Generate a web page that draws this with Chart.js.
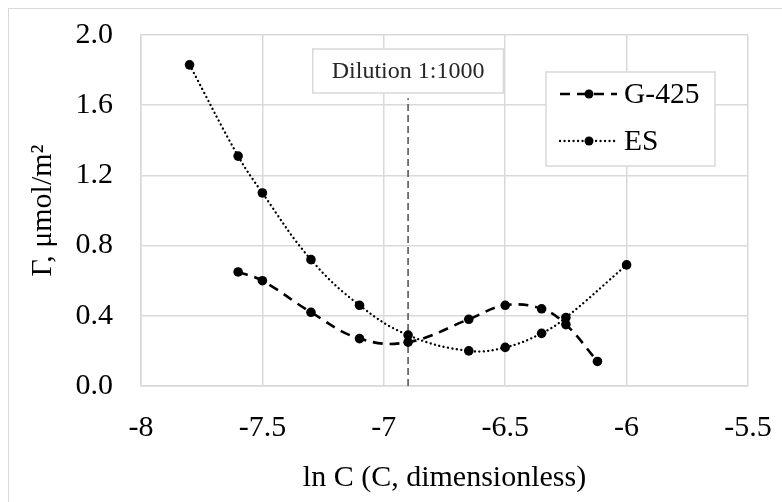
<!DOCTYPE html>
<html>
<head>
<meta charset="utf-8">
<script src="https://cdn.jsdelivr.net/npm/chart.js@4"></script>
<style>
  html, body { margin: 0; padding: 0; background: #fff; overflow: hidden; }
  #frame { position: absolute; left: 8px; top: 8px; width: 820px; height: 540px;
           border-left: 1.5px solid #d9d9d9; border-top: 1.5px solid #d9d9d9; }
  #wrap { position: absolute; left: 0; top: 0; width: 782px; height: 502px; }
</style>
</head>
<body>
<div id="frame"></div>
<div id="wrap"><canvas id="chart" width="782" height="502"></canvas></div>
<script>
// data
const g425X = [-7.6, -7.5, -7.3, -7.1, -6.9, -6.65, -6.5, -6.35, -6.25, -6.12];
const g425Y = [0.65, 0.60, 0.42, 0.27, 0.25, 0.38, 0.46, 0.44, 0.35, 0.14];
const esX = [-7.8, -7.6, -7.5, -7.3, -7.1, -6.9, -6.65, -6.5, -6.35, -6.25, -6.0];
const esY = [1.83, 1.31, 1.10, 0.72, 0.46, 0.29, 0.20, 0.22, 0.30, 0.39, 0.69];
const dilutionX = [-6.9, -6.9];
const dilutionY = [0, 1.64];
const dilutionLabel = 'Dilution 1:1000';
const xTicks = [-8, -7.5, -7, -6.5, -6, -5.5];
const yTicks = [0, 0.4, 0.8, 1.2, 1.6, 2.0];

const FONT = "'Liberation Serif', 'Times New Roman', serif";
const GRID = '#d9d9d9';

const pts = (xs, ys) => xs.map((x, i) => ({ x: x, y: ys[i] }));

// text box over the dilution line
const dilutionBox = {
  id: 'dilutionBox',
  afterDatasetsDraw(chart) {
    const ctx = chart.ctx, xs = chart.scales.x, ca = chart.chartArea;
    const cx = xs.getPixelForValue(dilutionX[0]);
    ctx.save();
    ctx.font = '24px ' + FONT;
    const w = ctx.measureText(dilutionLabel).width + 38;
    const h = 44, top = ca.top + 14;
    ctx.fillStyle = '#fff';
    ctx.fillRect(cx - w / 2, top, w, h);
    ctx.strokeStyle = GRID;
    ctx.lineWidth = 1.5;
    ctx.strokeRect(cx - w / 2, top, w, h);
    ctx.fillStyle = '#262626';
    ctx.textAlign = 'center';
    ctx.textBaseline = 'middle';
    ctx.fillText(dilutionLabel, cx, top + h / 2 + 1);
    ctx.restore();
  }
};

// Excel-like legend: line sample with marker in the middle
const boxLegend = {
  id: 'boxLegend',
  afterDraw(chart) {
    const ctx = chart.ctx, ca = chart.chartArea;
    const right = ca.right - 33, left = right - 169, top = ca.top + 37, h = 94;
    ctx.save();
    ctx.fillStyle = '#fff';
    ctx.fillRect(left, top, right - left, h);
    ctx.strokeStyle = GRID;
    ctx.lineWidth = 1.5;
    ctx.strokeRect(left, top, right - left, h);
    chart.data.datasets.forEach((ds, i) => {
      if (ds.hideInLegend) return;
      const y = top + 22 + i * 47;
      ctx.beginPath();
      ctx.setLineDash(ds.borderDash || []);
      ctx.lineCap = ds.borderCapStyle || 'butt';
      ctx.lineWidth = ds.borderWidth;
      ctx.strokeStyle = ds.borderColor;
      ctx.moveTo(left + 14, y);
      ctx.lineTo(left + 71, y);
      ctx.stroke();
      ctx.setLineDash([]);
      ctx.beginPath();
      ctx.fillStyle = '#000';
      ctx.arc(left + 43, y, 4.5, 0, Math.PI * 2);
      ctx.fill();
      ctx.font = '29.5px ' + FONT;
      ctx.fillStyle = '#000';
      ctx.textBaseline = 'middle';
      ctx.fillText(ds.label, left + 78, y + 1);
    });
    ctx.restore();
  }
};

new Chart(document.getElementById('chart'), {
  type: 'scatter',
  data: {
    datasets: [{
      label: 'G-425',
      data: pts(g425X, g425Y),
      showLine: true,
      tension: 0.4,
      borderColor: '#000',
      backgroundColor: '#000',
      borderWidth: 2.6,
      borderDash: [10, 7],
      pointRadius: 4.8,
      pointHoverRadius: 4.8,
      pointBorderWidth: 0
    }, {
      label: 'ES',
      data: pts(esX, esY),
      showLine: true,
      tension: 0.4,
      borderColor: '#000',
      backgroundColor: '#000',
      borderWidth: 2.3,
      borderDash: [0.1, 4.4],
      borderCapStyle: 'round',
      pointRadius: 4.8,
      pointHoverRadius: 4.8,
      pointBorderWidth: 0
    }, {
      label: 'dilution',
      hideInLegend: true,
      data: pts(dilutionX, dilutionY),
      showLine: true,
      borderColor: '#595959',
      borderWidth: 1.6,
      borderDash: [7, 4],
      pointRadius: 0
    }]
  },
  options: {
    responsive: false,
    animation: false,
    devicePixelRatio: 1,
    layout: { padding: { left: 8, top: 35, right: 34, bottom: 0 } },
    plugins: { legend: { display: false }, tooltip: { enabled: false } },
    scales: {
      x: {
        type: 'linear',
        min: -8, max: -5.5,
        afterBuildTicks: s => { s.ticks = xTicks.map(v => ({ value: v })); },
        afterFit: s => { s.height = 116; s.paddingLeft = 0; s.paddingRight = 0; },
        grid: { color: GRID, lineWidth: 1.5, drawTicks: false },
        border: { color: GRID, width: 1.5 },
        ticks: { color: '#000', padding: 24, font: { family: FONT, size: 30 },
                 callback: v => String(v) },
        title: { display: true, text: 'ln C (C, dimensionless)', color: '#000',
                 font: { family: FONT, size: 30 }, padding: { top: 0, bottom: 6 } }
      },
      y: {
        min: 0, max: 2,
        afterBuildTicks: s => { s.ticks = yTicks.map(v => ({ value: v })); },
        afterFit: s => { s.width = 133; s.paddingTop = 0; s.paddingBottom = 0; },
        grid: { color: GRID, lineWidth: 1.5, drawTicks: false },
        border: { color: GRID, width: 1.5 },
        ticks: { color: '#000', padding: 28, font: { family: FONT, size: 30 },
                 callback: v => v.toFixed(1) },
        title: { display: true, text: 'Γ, μmol/m²', color: '#000',
                 font: { family: FONT, size: 30 }, padding: { top: 17, bottom: 0 } }
      }
    }
  },
  plugins: [dilutionBox, boxLegend]
});
</script>
</body>
</html>
